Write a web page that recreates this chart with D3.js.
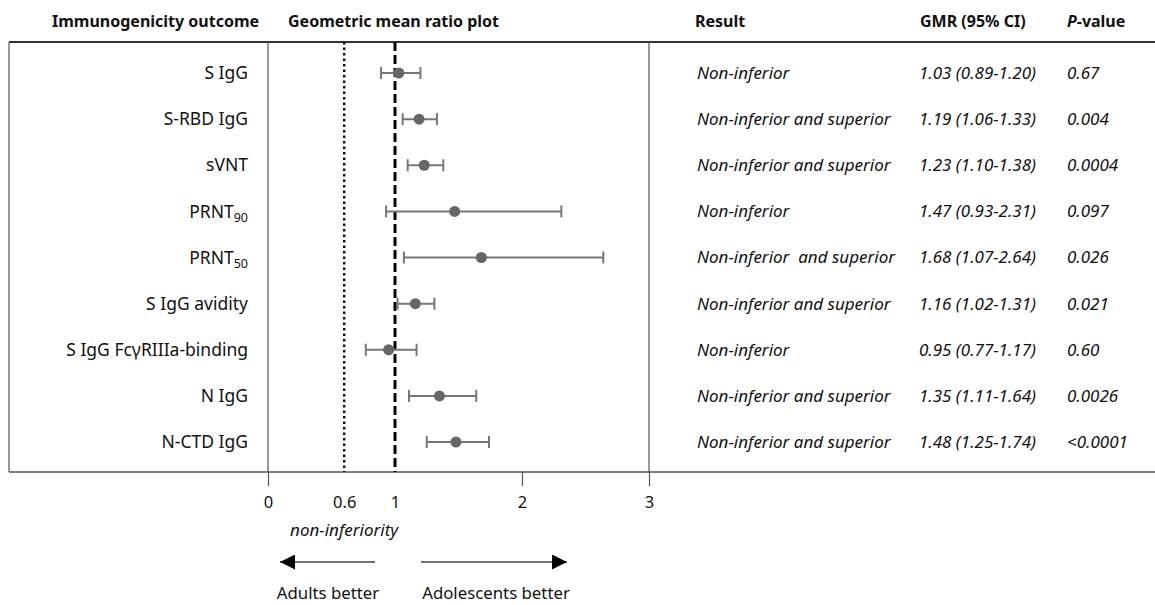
<!DOCTYPE html>
<html>
<head>
    <meta charset="utf-8">
    <script src="https://d3js.org/d3.v7.min.js"></script>
    <style>
        body { margin: 0; background: white; }
        text { font-family: "Noto Sans", Lato, sans-serif; fill: #111; }
        .hdr { font-weight: bold; font-size: 16px; }
        .lbl { font-size: 17.5px; }
        .cell { font-size: 17px; font-style: italic; }
    </style>
</head>
<body>
<script>
    // data
    var outcomes = ["S IgG", "S-RBD IgG", "sVNT", "PRNT90", "PRNT50", "S IgG avidity",
                    "S IgG Fc\u03b3RIIIa-binding", "N IgG", "N-CTD IgG"];
    var gmr   = [1.03, 1.19, 1.23, 1.47, 1.68, 1.16, 0.95, 1.35, 1.48];
    var lower = [0.89, 1.06, 1.10, 0.93, 1.07, 1.02, 0.77, 1.11, 1.25];
    var upper = [1.20, 1.33, 1.38, 2.31, 2.64, 1.31, 1.17, 1.64, 1.74];
    var results = ["Non-inferior", "Non-inferior and superior", "Non-inferior and superior",
                   "Non-inferior", "Non-inferior  and superior", "Non-inferior and superior",
                   "Non-inferior", "Non-inferior and superior", "Non-inferior and superior"];
    var pvalues = ["0.67", "0.004", "0.0004", "0.097", "0.026", "0.021", "0.60", "0.0026", "<0.0001"];
    var tickVals = [0, 0.6, 1, 2, 3];
    var nonInfMargin = 0.6;

    var W = 1155, H = 605;
    var frameTop = 42, frameBottom = 472;

    var svg = d3.select("body").append("svg")
        .attr("width", W).attr("height", H);

    var x = d3.scaleLinear().domain([0, 3]).range([268, 649]);
    var y = d3.scalePoint().domain(outcomes).range([73, 442]);

    // column headers
    var hdr = svg.append("g").attr("class", "hdr");
    hdr.append("text").attr("x", 52).attr("y", 27).text("Immunogenicity outcome");
    hdr.append("text").attr("x", 288).attr("y", 27).text("Geometric mean ratio plot");
    hdr.append("text").attr("x", 695).attr("y", 27).text("Result");
    hdr.append("text").attr("x", 920).attr("y", 27).text("GMR (95% CI)");
    var pv = hdr.append("text").attr("x", 1067).attr("y", 27);
    pv.append("tspan").style("font-style", "italic").text("P");
    pv.append("tspan").text("-value");

    // frame
    svg.append("line").attr("x1", 9).attr("x2", W).attr("y1", frameTop).attr("y2", frameTop)
        .attr("stroke", "#333").attr("stroke-width", 2);
    svg.append("line").attr("x1", 9).attr("x2", 9).attr("y1", frameTop).attr("y2", frameBottom)
        .attr("stroke", "#555").attr("stroke-width", 1.2);
    svg.append("line").attr("x1", x(3)).attr("x2", x(3)).attr("y1", frameTop).attr("y2", frameBottom)
        .attr("stroke", "#555").attr("stroke-width", 1.2);
    svg.append("line").attr("x1", x(0)).attr("x2", x(0)).attr("y1", frameTop).attr("y2", frameBottom)
        .attr("stroke", "#555").attr("stroke-width", 1.2);

    // x axis
    var axis = svg.append("g")
        .attr("transform", "translate(0," + frameBottom + ")")
        .call(d3.axisBottom(x).tickValues(tickVals).tickSize(14).tickPadding(10)
            .tickFormat(function(d) { return String(d); }));
    axis.select(".domain").remove();
    axis.selectAll(".tick line").attr("stroke", "#555").attr("stroke-width", 1.2)
        .filter(function(d) { return d === 0.6 || d === 1; }).remove();
    axis.selectAll(".tick text").attr("font-size", 16.5).attr("font-family", "'Noto Sans', sans-serif")
        .attr("fill", "#111");
    svg.append("line").attr("x1", 9).attr("x2", W).attr("y1", frameBottom).attr("y2", frameBottom)
        .attr("stroke", "#555").attr("stroke-width", 1.6);

    // reference lines
    svg.append("line").attr("x1", x(nonInfMargin)).attr("x2", x(nonInfMargin))
        .attr("y1", frameTop).attr("y2", frameBottom)
        .attr("stroke", "#111").attr("stroke-width", 2.5).attr("stroke-dasharray", "2.5,3");
    svg.append("line").attr("x1", x(1)).attr("x2", x(1))
        .attr("y1", frameTop).attr("y2", frameBottom)
        .attr("stroke", "#000").attr("stroke-width", 3).attr("stroke-dasharray", "9,4");

    // outcome labels
    var lbl = svg.append("g").attr("class", "lbl").selectAll("text")
        .data(outcomes).enter().append("text")
        .attr("x", 248)
        .attr("y", function(d) { return y(d); })
        .attr("dy", "0.35em")
        .attr("text-anchor", "end");
    lbl.each(function(d) {
        var t = d3.select(this);
        var m = d.match(/^(PRNT)(\d+)$/);
        if (m) {
            t.append("tspan").text(m[1]);
            t.append("tspan").attr("dy", 4).attr("font-size", 12.5).text(m[2]);
        } else {
            t.text(d);
        }
    });

    // error bars and points
    var rows = svg.append("g").selectAll("g")
        .data(outcomes).enter().append("g")
        .attr("transform", function(d) { return "translate(0," + y(d) + ")"; });
    rows.append("line")
        .attr("x1", function(d, i) { return x(lower[i]); })
        .attr("x2", function(d, i) { return x(upper[i]); })
        .attr("stroke", "#777").attr("stroke-width", 2);
    rows.append("line")
        .attr("x1", function(d, i) { return x(lower[i]); })
        .attr("x2", function(d, i) { return x(lower[i]); })
        .attr("y1", -6).attr("y2", 6)
        .attr("stroke", "#777").attr("stroke-width", 2);
    rows.append("line")
        .attr("x1", function(d, i) { return x(upper[i]); })
        .attr("x2", function(d, i) { return x(upper[i]); })
        .attr("y1", -6).attr("y2", 6)
        .attr("stroke", "#777").attr("stroke-width", 2);
    rows.append("circle")
        .attr("cx", function(d, i) { return x(gmr[i]); })
        .attr("r", 5.5)
        .attr("fill", "#666");

    // table columns
    var cells = svg.append("g").attr("class", "cell");
    cells.selectAll(".res").data(results).enter().append("text")
        .attr("x", 697).attr("y", function(d, i) { return y(outcomes[i]); })
        .attr("dy", "0.35em").text(function(d) { return d; })
        .style("white-space", "pre");
    cells.selectAll(".gmr").data(gmr).enter().append("text")
        .attr("x", 919).attr("y", function(d, i) { return y(outcomes[i]); })
        .attr("dy", "0.35em")
        .text(function(d, i) {
            return d.toFixed(2) + " (" + lower[i].toFixed(2) + "-" + upper[i].toFixed(2) + ")";
        });
    cells.selectAll(".pv").data(pvalues).enter().append("text")
        .attr("x", 1067).attr("y", function(d, i) { return y(outcomes[i]); })
        .attr("dy", "0.35em").text(function(d) { return d; });

    // annotation under the axis
    svg.append("text").attr("x", x(nonInfMargin)).attr("y", 536)
        .attr("text-anchor", "middle").attr("font-size", 17).attr("font-style", "italic")
        .text("non-inferiority");

    var defs = svg.append("defs");
    defs.append("marker").attr("id", "head")
        .attr("viewBox", "0 0 10 10").attr("refX", 10).attr("refY", 5)
        .attr("markerWidth", 15).attr("markerHeight", 15)
        .attr("markerUnits", "userSpaceOnUse")
        .attr("orient", "auto")
        .append("path").attr("d", "M0,0 L10,5 L0,10 Z").attr("fill", "#000");

    svg.append("line").attr("x1", 375).attr("x2", 280).attr("y1", 562).attr("y2", 562)
        .attr("stroke", "#444").attr("stroke-width", 1.5).attr("marker-end", "url(#head)");
    svg.append("line").attr("x1", 421).attr("x2", 567).attr("y1", 562).attr("y2", 562)
        .attr("stroke", "#444").attr("stroke-width", 1.5).attr("marker-end", "url(#head)");

    svg.append("text").attr("x", 328).attr("y", 599).attr("text-anchor", "middle")
        .attr("font-size", 16.8).text("Adults better");
    svg.append("text").attr("x", 496).attr("y", 599).attr("text-anchor", "middle")
        .attr("font-size", 16.8).text("Adolescents better");
</script>
</body>
</html>
